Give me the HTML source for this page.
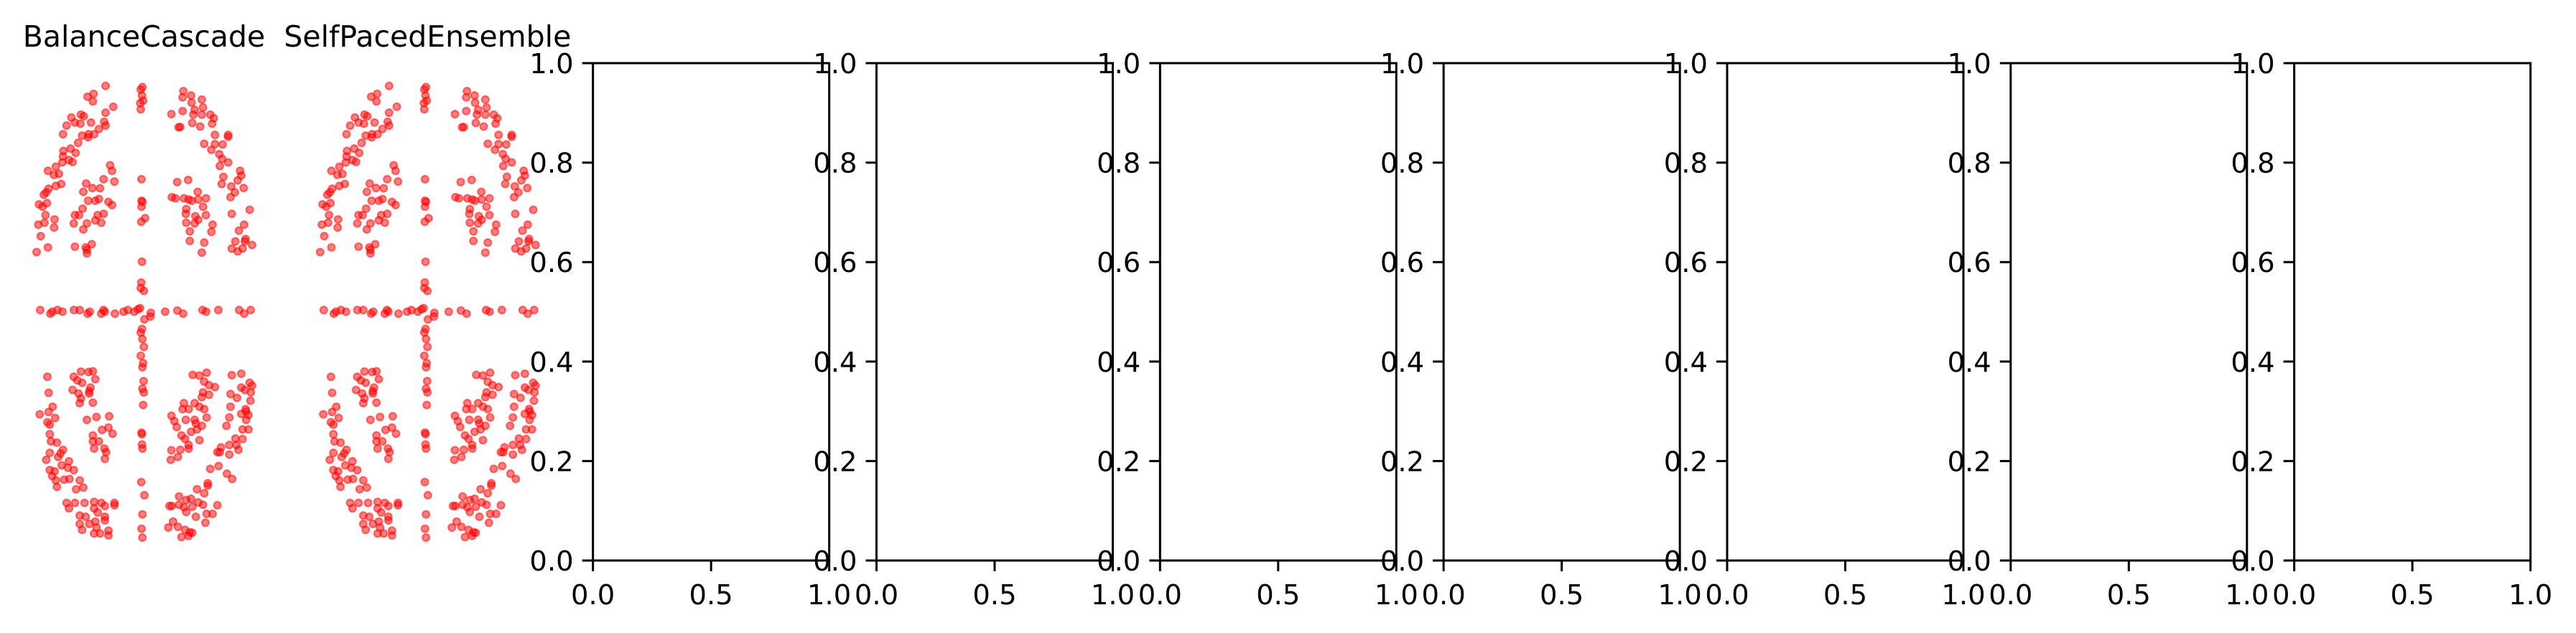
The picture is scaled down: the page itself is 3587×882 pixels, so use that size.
<!DOCTYPE html>
<html><head><meta charset="utf-8">
<style>
html,body{margin:0;padding:0;background:#fff;}
svg{display:block;font-family:"DejaVu Sans","Liberation Sans",sans-serif;}
</style></head>
<body>
<svg id="fig" xmlns="http://www.w3.org/2000/svg" width="3587" height="882" viewBox="0 0 3587 882"></svg>
<script>
const titles = ["BalanceCascade", "SelfPacedEnsemble"];
const xTicks = [0, 0.5, 1];
const xTickLabels = ["0.0", "0.5", "1.0"];
const yTicks = [0, 0.2, 0.4, 0.6, 0.8, 1.0];
const yTickLabels = ["0.0", "0.2", "0.4", "0.6", "0.8", "1.0"];
const nEmpty = 7;
// scatter data (feature units; x domain [0,990], y domain [0,2079])
const xVals = [333,258,283,280,365,333,190,230,242,228,205,170,272,327,333,155,235,260,262,285,305,218,187,157,208,155,180,195,152,125,92,117,138,148,125,95,75,85,55,70,88,82,52,78,120,118,62,45,92,205,250,275,255,255,
352,360,370,325,252,240,278,310,260,290,305,345,360,237,205,200,222,255,240,300,325,315,290,
487,480,485,490,478,480,483,483,487,483,498,482,485,482,480,493,
658,655,690,735,692,705,740,655,608,700,735,770,785,778,695,728,645,638,790,845,845,745,790,822,775,808,820,845,810,895,900,885,825,818,858,873,910,855,632,678,718,752,610,625,660,680,692,720,740,670,668,752,708,720,670,705,780,775,685,685,745,735,860,935,912,890,875,918,860,885,945,915,905,
60,102,111,132,153,201,225,258,267,315,330,324,372,408,426,453,468,477,522,582,633,657,738,753,804,891,912,939,
495,485,480,487,493,480,490,487,492,487,493,490,483,485,485,487,482,495,487,483,487,520,
90,230,262,280,200,215,235,290,270,265,195,220,265,230,225,280,95,112,95,58,122,90,100,255,295,348,318,345,362,280,280,305,285,328,335,330,100,105,130,100,145,155,85,135,180,100,120,110,150,175,200,125,160,182,130,225,210,240,170,205,245,285,315,370,180,285,330,370,300,330,330,225,250,225,265,290,235,295,345,285,310,345,
697,725,755,745,765,790,740,735,765,860,900,935,945,900,915,940,855,882,938,855,918,900,920,930,850,838,920,905,930,660,705,725,745,655,680,608,620,668,705,710,755,735,690,715,630,650,665,725,680,680,608,645,605,635,815,810,850,880,888,850,905,875,800,770,805,840,862,760,760,715,745,640,670,690,720,740,800,600,610,640,660,695,670,710,755,780,750,615,635,595,665,685,695,650,680];
const yVals = [1984,1939,1951,1919,1897,1872,1852,1864,1857,1826,1831,1818,1831,1834,1818,1782,1776,1769,1782,1782,1804,1746,1722,1712,1704,1689,1674,1666,1664,1646,1629,1612,1616,1574,1566,1554,1529,1539,1489,1479,1494,1444,1404,1412,1426,1392,1356,1289,1309,1312,1309,1322,1284,1299,
1652,1629,1584,1594,1576,1541,1557,1556,1504,1504,1511,1499,1486,1471,1444,1409,1444,1409,1384,1444,1449,1412,1422,
1979,1969,1944,1922,1912,1886,1594,1504,1499,1479,1431,1416,1249,1162,1139,1127,
1962,1936,1944,1927,1914,1884,1894,1879,1866,1864,1864,1864,1849,1826,1829,1814,1812,1811,1779,1779,1771,1742,1741,1739,1717,1699,1679,1664,1649,1629,1609,1589,1604,1574,1564,1539,1557,1519,1582,1591,1541,1514,1519,1514,1514,1509,1504,1509,1479,1469,1449,1444,1439,1424,1412,1409,1404,1374,1376,1336,1329,1287,1449,1466,1404,1379,1334,1344,1304,1292,1319,1334,1304,
1047,1032,1040,1047,1040,1047,1047,1032,1040,1032,1040,1047,1032,1040,1047,1040,1050,1055,1035,1040,1045,1032,1047,1040,1047,1047,1032,1047,
1008,968,953,926,893,856,825,808,750,718,703,650,535,528,485,468,328,273,193,133,96,1020,
768,790,788,791,768,753,743,758,723,708,713,698,698,678,658,660,701,643,621,611,596,578,568,588,600,603,546,556,530,523,498,498,468,468,453,425,528,498,493,450,448,463,421,433,415,378,373,353,398,388,378,335,338,341,308,335,298,305,241,241,241,245,241,241,218,218,228,231,201,183,168,188,183,153,153,163,128,138,125,113,113,105,
776,773,785,748,733,725,703,683,693,775,781,743,731,723,713,703,696,680,668,643,633,613,623,608,598,563,588,548,548,658,658,643,633,633,633,605,583,588,588,573,598,563,538,548,558,523,508,503,483,468,461,463,421,433,473,453,483,483,463,443,508,510,453,383,395,363,341,323,313,298,281,268,253,258,243,233,231,228,228,233,223,225,203,183,195,195,158,163,141,138,128,118,116,98,103];

const NS = "http://www.w3.org/2000/svg";
const svg = document.getElementById("fig");
const P0 = 36, PSTEP = 394.83, PW = 329, PTOP = 88, PBOT = 781;
const XD = [0, 990], YD = [0, 2079];
function mk(tag, attrs, parent) {
  const e = document.createElementNS(NS, tag);
  for (const k in attrs) e.setAttribute(k, attrs[k]);
  (parent || svg).appendChild(e);
  return e;
}
function sx(left, v) { return left + (v - XD[0]) / (XD[1] - XD[0]) * (PW * 990 / 987); }
function sy(v) { return PBOT - (v - YD[0]) / (YD[1] - YD[0]) * (PBOT - PTOP); }
function ax(left, v) { return left + v * PW; }
function ay(v) { return PBOT - v * (PBOT - PTOP); }

titles.forEach((t, k) => {
  const left = P0 + k * PSTEP;
  const g = mk("g", {});
  
  
  const tt = mk("text", {x: left + PW / 2, y: 65, "text-anchor": "middle", "font-size": "41", fill: "#000"}, g);
  tt.textContent = t;
  
  
  for (let i = 0; i < xVals.length; i++) {
    const c = mk("circle", {cx: sx(left, xVals[i]).toFixed(1), cy: sy(yVals[i]).toFixed(1), r: 5, fill: "#ff0000", "fill-opacity": 0.5, stroke: "#ff0000", "stroke-opacity": 0.5, "stroke-width": 2.2}, g);
    
    
  }
});

for (let k = 0; k < nEmpty; k++) {
  const left = P0 + (k + 2) * PSTEP;
  const g = mk("g", {});
  
  
  const r = mk("rect", {x: left, y: PTOP, width: PW, height: PBOT - PTOP, fill: "none", stroke: "#000", "stroke-width": 3}, g);
  
  
  yTicks.forEach((v, i) => {
    const y = ay(v);
    const l = mk("line", {x1: left - 15, x2: left, y1: y, y2: y, stroke: "#000", "stroke-width": 3}, g);
    
    
    const t = mk("text", {x: left - 27, y: y + 14, "text-anchor": "end", "font-size": "38.5", fill: "#000"}, g);
    t.textContent = yTickLabels[i];
    
    
  });
  xTicks.forEach((v, i) => {
    const x = ax(left, v);
    const l = mk("line", {x1: x, x2: x, y1: PBOT, y2: PBOT + 15, stroke: "#000", "stroke-width": 3}, g);
    
    
    const t = mk("text", {x: x, y: 842, "text-anchor": "middle", "font-size": "38.5", fill: "#000"}, g);
    t.textContent = xTickLabels[i];
    
    
  });
}
</script>
</body></html>
